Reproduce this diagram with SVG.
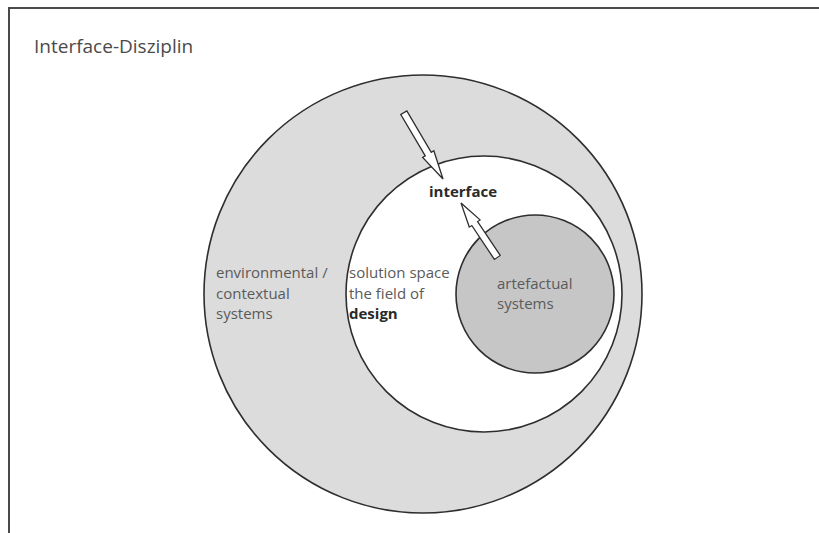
<svg xmlns="http://www.w3.org/2000/svg" width="819" height="533" viewBox="0 0 819 533">
  <style>
    .ring { stroke: #2e2e2e; stroke-width: 1.6; }
    .lbl { font-family: "Open Sans", "Noto Sans", sans-serif; font-size: 15px; fill: #5a5a5a; }
    .strong { font-weight: bold; fill: #2a2a2a; }
    .arrow { fill: #ffffff; stroke: #2e2e2e; stroke-width: 1.3; stroke-linejoin: miter; }
  </style>
  <defs>
    <!-- hollow block arrow pointing along +x, tip at the origin -->
    <path id="hollowArrow" d="M-77,-3.5 L-29,-3.5 L-29,-6.5 L0,0 L-29,6.5 L-29,3.5 L-77,3.5 Z"/>
  </defs>

  <rect width="819" height="533" fill="#ffffff"/>

  <!-- frame -->
  <g id="frame" fill="none" stroke="#4a4a4a" stroke-width="2">
    <path d="M9,533 L9,8 L819,8"/>
  </g>

  <text id="title" x="34" y="53" style="font-family:'Open Sans','Noto Sans',sans-serif;font-size:19px;fill:#4a4a4a">Interface-Disziplin</text>

  <g id="environment">
    <circle class="ring" cx="423" cy="294" r="219" fill="#dcdcdc"/>
    <text class="lbl" x="216" y="278">environmental /</text>
    <text class="lbl" x="216" y="298.5">contextual</text>
    <text class="lbl" x="216" y="319">systems</text>
  </g>

  <g id="solution-space">
    <circle class="ring" cx="484" cy="294" r="138" fill="#ffffff"/>
    <text class="lbl" x="349" y="278">solution space</text>
    <text class="lbl" x="349" y="298.5">the field of</text>
    <text class="lbl strong" x="349" y="319">design</text>
  </g>

  <g id="artefactual">
    <circle class="ring" cx="535" cy="294" r="79" fill="#c6c6c6"/>
    <text class="lbl" x="497" y="288.5">artefactual</text>
    <text class="lbl" x="497" y="309">systems</text>
  </g>

  <g id="interface">
    <text class="lbl strong" x="429" y="197">interface</text>
  </g>

  <!-- connectors -->
  <g id="connectors">
    <use href="#hollowArrow" class="arrow" transform="translate(443,179) rotate(59.4)"/>
    <use href="#hollowArrow" class="arrow" transform="translate(461,203) rotate(236.3) scale(0.85,1)"/>
  </g>
</svg>
